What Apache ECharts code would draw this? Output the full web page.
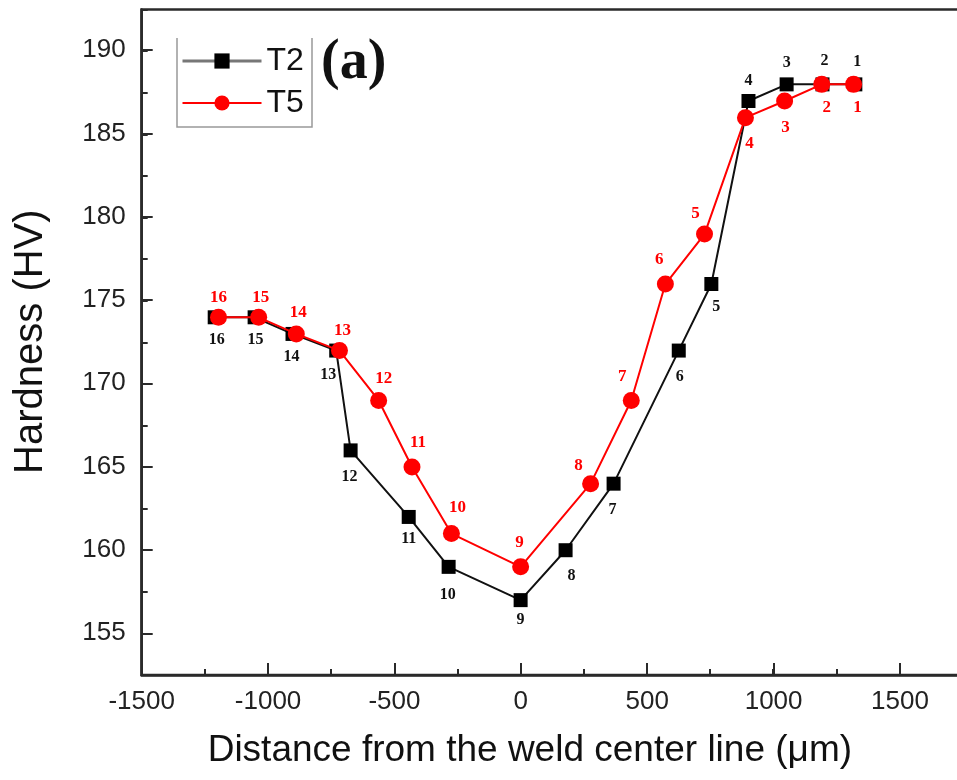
<!DOCTYPE html>
<html><head><meta charset="utf-8">
<script src="https://cdn.jsdelivr.net/npm/echarts@6/dist/echarts.min.js"></script>
<style>html,body{margin:0;padding:0;background:#fff}#c{width:957px;height:780px}</style>
</head><body><div id="c"></div>
<script>
// ---- data ----
const seriesNames = ['T2', 'T5'];
const pointLabels = ['16','15','14','13','12','11','10','9','8','7','6','5','4','3','2','1'];
const t2X = [-1211, -1053, -903, -730, -673, -443, -285, 0, 178, 368, 626, 755, 902, 1053, 1195, 1325];
const t2Y = [174, 174, 173, 172, 166, 162, 159, 157, 160, 164, 172, 176, 187, 188, 188, 188];
const t5X = [-1196, -1037, -888, -717, -562, -430, -274, 0, 277, 438, 573, 728, 890, 1045, 1192, 1318];
const t5Y = [174, 174, 173, 172, 169, 165, 161, 159, 164, 169, 176, 179, 186, 187, 188, 188];
const xTickLabels = [-1500, -1000, -500, 0, 500, 1000, 1500];
const yTickLabels = [155, 160, 165, 170, 175, 180, 185, 190];
const xTitle = 'Distance from the weld center line (\u03bcm)';
const yTitle = 'Hardness (HV)';
const panelTag = '(a)';

// ---- styling (label offsets in px) ----
const t2LabelOffset = [[2,23],[1,23],[-1,23],[-8,24],[-1,26],[0,22],[-1,28],[0,20],[6,26],[-1,26],[1,26],[5,23],[0,-20],[0,-22],[2,-24],[2,-23]];
const t5LabelOffset = [[0,-20],[2,-20],[2,-21],[3,-20],[5,-22],[6,-24],[6,-26],[-1,-24],[-12,-18],[-9,-24],[-6,-24],[-9,-20],[4,26],[1,27],[5,23],[4,23]];

const axisColor = '#2a2a2a';
const sans = 'Liberation Sans, Arial, sans-serif';
const serif = 'Liberation Serif, Times New Roman, serif';

function build(xs, ys, offs) {
  return xs.map((x, i) => ({ value: [x, ys[i]], label: { offset: offs[i] } }));
}
const plain = v => String(v);

const chart = echarts.init(document.getElementById('c'), null, { renderer: 'canvas' });
chart.setOption({
  animation: false,
  backgroundColor: '#fff',
  grid: [
    { left: 141.7, top: 9.5, width: 821, bottom: 105, show: true, borderColor: axisColor, borderWidth: 2.5,
      outerBoundsMode: 'none', containLabel: false },
    { left: 141.7, top: 50, width: 758.3, bottom: 146.7, outerBoundsMode: 'none', containLabel: false }
  ],
  xAxis: [
    { gridIndex: 0, type: 'value', min: -1500, max: 1750, interval: 250,
      axisLine: { show: true, onZero: false, lineStyle: { color: axisColor, width: 2.5 } },
      axisTick: { show: true, inside: true, length: 6, lineStyle: { color: axisColor, width: 2 } },
      axisLabel: { show: false }, splitLine: { show: false } },
    { gridIndex: 1, type: 'value', min: xTickLabels[0], max: xTickLabels[xTickLabels.length - 1], interval: 500,
      offset: 41.7,
      axisLine: { show: false, onZero: false },
      axisTick: { show: true, inside: true, length: 12, lineStyle: { color: axisColor, width: 2 } },
      axisLabel: { show: true, margin: 14, fontSize: 26, fontFamily: sans, color: '#222', formatter: plain },
      splitLine: { show: false },
      name: xTitle, nameLocation: 'middle', nameGap: 57,
      nameTextStyle: { fontSize: 37, fontFamily: sans, color: '#111', padding: [0, 0, 0, 18] } }
  ],
  yAxis: [
    { gridIndex: 0, type: 'value', min: 152.5, max: 192.5, interval: 2.5,
      axisLine: { show: true, onZero: false, lineStyle: { color: axisColor, width: 2.5 } },
      axisTick: { show: true, inside: true, length: 6, lineStyle: { color: axisColor, width: 2 } },
      axisLabel: { show: false }, splitLine: { show: false } },
    { gridIndex: 1, type: 'value', min: yTickLabels[0], max: yTickLabels[yTickLabels.length - 1], interval: 5,
      axisLine: { show: false, onZero: false },
      axisTick: { show: true, inside: true, length: 11, lineStyle: { color: axisColor, width: 2 } },
      axisLabel: { show: true, margin: 16, fontSize: 26, fontFamily: sans, color: '#222', formatter: plain },
      splitLine: { show: false },
      name: yTitle, nameLocation: 'middle', nameGap: 91, nameRotate: 90,
      nameTextStyle: { fontSize: 40, fontFamily: sans, color: '#111' } }
  ],
  legend: {
    orient: 'vertical', left: 181, top: 45, padding: 0, itemWidth: 79, itemHeight: 19, itemGap: 10,
    textStyle: { fontSize: 32, fontFamily: sans, color: '#111' },
    data: [
      { name: seriesNames[0], lineStyle: { color: '#777', width: 3 } },
      { name: seriesNames[1] }
    ]
  },
  graphic: [
    { type: 'polyline', shape: { points: [[177, 38], [177, 127], [312, 127], [312, 38]] },
      style: { stroke: '#999', lineWidth: 1.5, fill: null }, silent: true },
    { type: 'text', left: 321, top: 36,
      style: { text: panelTag, font: 'bold 56px ' + serif, fill: '#111' } }
  ],
  series: [
    { name: seriesNames[0], type: 'line', xAxisIndex: 0, yAxisIndex: 0,
      data: build(t2X, t2Y, t2LabelOffset),
      symbol: 'rect', symbolSize: 14,
      itemStyle: { color: '#000' }, lineStyle: { color: '#111', width: 2 },
      label: { show: true, position: 'inside', formatter: p => pointLabels[p.dataIndex],
        fontFamily: serif, fontWeight: 'bold', fontSize: 16, color: '#111' },
      z: 2 },
    { name: seriesNames[1], type: 'line', xAxisIndex: 0, yAxisIndex: 0,
      data: build(t5X, t5Y, t5LabelOffset),
      symbol: 'circle', symbolSize: 17,
      itemStyle: { color: '#ff0000' }, lineStyle: { color: '#ff0000', width: 2 },
      label: { show: true, position: 'inside', formatter: p => pointLabels[p.dataIndex],
        fontFamily: serif, fontWeight: 'bold', fontSize: 17, color: '#ff0000' },
      z: 3 }
  ]
});
</script>
</body></html>
